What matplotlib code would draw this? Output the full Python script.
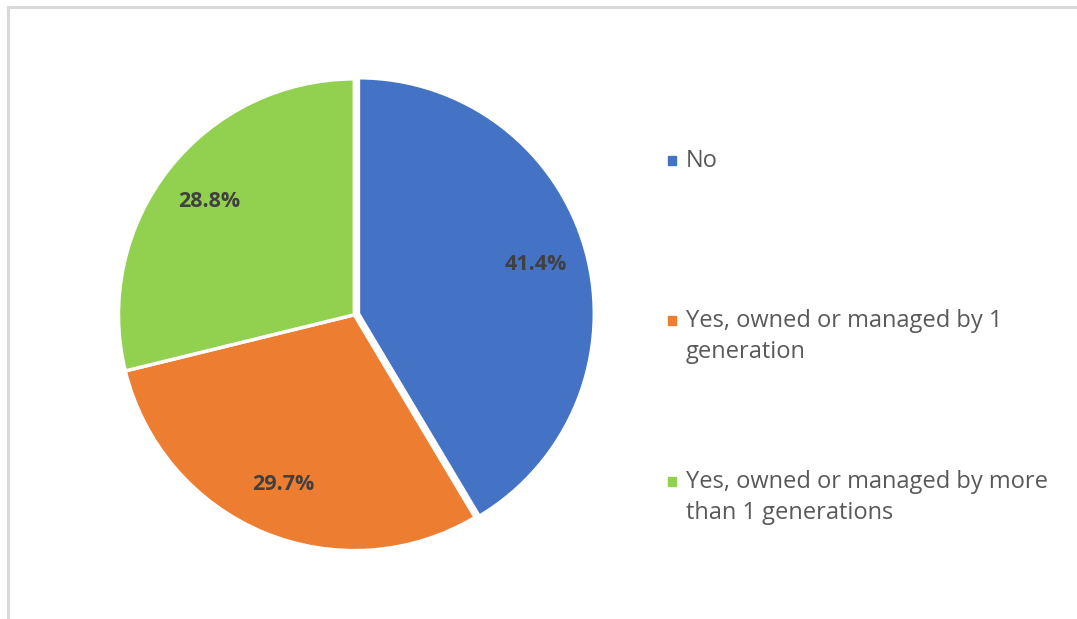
import matplotlib
import matplotlib.pyplot as plt
from matplotlib.lines import Line2D
from matplotlib.patches import Rectangle

matplotlib.use("Agg")

# Survey answers and their shares (percent)
labels = [
    "No",
    "Yes, owned or managed by 1\ngeneration",
    "Yes, owned or managed by more\nthan 1 generations",
]
shares = [41.4, 29.7, 28.8]
colors = ["#4472C4", "#ED7D31", "#92D050"]

plt.rcParams["font.family"] = ["Open Sans", "DejaVu Sans"]

fig = plt.figure(figsize=(10.77, 6.19), dpi=100)
fig.patch.set_facecolor("white")

# thin grey frame round the chart area (only top and left are visible)
fig.add_artist(Line2D([0.0075, 0.0075], [0, 0.989], color="#d9d9d9", lw=2.2,
                      transform=fig.transFigure))
fig.add_artist(Line2D([0.0075, 1.0], [0.989, 0.989], color="#d9d9d9", lw=2.2,
                      transform=fig.transFigure))

ax = fig.add_axes([0.110, 0.110, 0.438, 0.763])
wedges, texts, autotexts = ax.pie(
    shares,
    colors=colors,
    startangle=90,
    counterclock=False,
    explode=[0.018, 0, 0],
    autopct="%.1f%%",
    pctdistance=0.78,
    wedgeprops=dict(edgecolor="white", linewidth=2.5),
    textprops=dict(color="#404040", fontsize=15.5, fontweight="bold"),
)
ax.set_xlim(-1.0, 1.0)
ax.set_ylim(-1.0, 1.0)
ax.set_aspect("equal")
ax.axis("off")

# legend drawn by hand to keep the wide spacing between entries;
# each marker sits level with the first line of its label
legend_y = [0.7415, 0.483, 0.223]
for lab, col, y in zip(labels, colors, legend_y):
    fig.add_artist(Rectangle((0.620, y - 0.0075), 0.0080, 0.014, color=col,
                             transform=fig.transFigure))
    fig.text(0.637, y + 0.018, lab, color="#595959", fontsize=17,
             va="top", ha="left", linespacing=1.4)

fig.savefig("out.png", dpi=100)
